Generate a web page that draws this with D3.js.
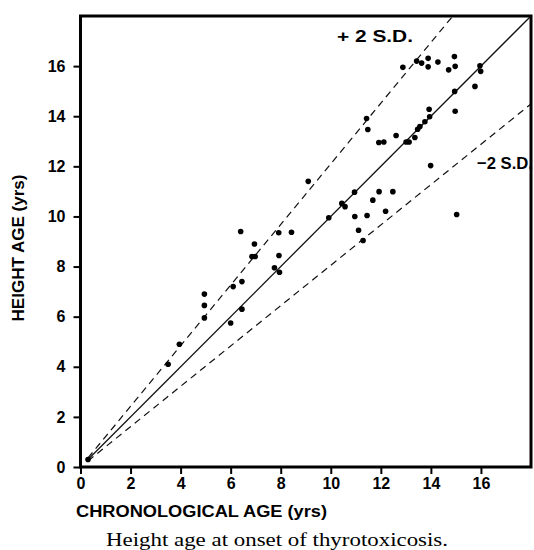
<!DOCTYPE html>
<html><head><meta charset="utf-8">
<script src="https://cdn.jsdelivr.net/npm/d3@7"></script>
<style>
body{margin:0;background:#fff;}
svg{display:block;}
</style></head>
<body>
<svg id="chart" width="534" height="550"></svg>
<script>
// Chronological age (x) and height age (y), years
const chronAge = [0.3,3.5,3.95,4.95,4.95,4.95,6.0,6.45,6.1,6.45,6.85,6.98,6.95,6.4,7.75,7.95,7.93,7.92,8.43,9.1,9.92,10.44,10.57,10.95,10.96,11.11,11.29,11.45,11.68,11.93,12.19,12.48,11.43,11.48,11.92,12.12,12.61,13.01,13.13,13.36,13.47,13.56,13.76,13.95,13.93,13.99,14.97,14.95,15.03,15.76,15.96,15.99,12.88,13.43,13.63,13.89,13.89,14.28,14.71,14.94,14.97];
const heightAge = [0.3,4.1,4.9,6.9,6.45,5.95,5.75,6.3,7.2,7.4,8.4,8.4,8.9,9.4,7.95,7.77,8.44,9.35,9.37,11.4,9.95,10.52,10.39,10.97,10.0,9.45,9.04,10.04,10.65,10.99,10.21,10.99,13.91,13.47,12.95,12.97,13.23,12.97,12.97,13.15,13.48,13.59,13.78,13.98,14.28,12.03,14.2,14.99,10.08,15.19,16.01,15.79,15.95,16.2,16.12,16.31,15.97,16.16,15.85,16.38,15.99];
// Reference lines: slope of height age vs chronological age
const lineNames  = ["mean","+2SD","-2SD"];
const lineSlopes = [1.0, 1.21, 0.805];
const lineDash   = [null, "7,5", "7,5"];
const tickValues = [0,2,4,6,8,10,12,14,16];
const xTitle = "CHRONOLOGICAL AGE (yrs)";
const yTitle = "HEIGHT AGE (yrs)";
const caption = "Height age at onset of thyrotoxicosis.";
const sdLabels = ["+ 2 S.D.", "\u22122 S.D."];

const svg = d3.select("#chart");
const L = 80.5, R = 531, T = 16, B = 467;
const x = d3.scaleLinear().domain([0,18]).range([L,R]);
const y = d3.scaleLinear().domain([0,18]).range([B,T]);
const font = "'Liberation Sans', Arial, sans-serif";

// reference lines
const x0 = 0.3;
lineSlopes.forEach((s,i)=>{
  const xe = Math.min(18, 18/s);
  svg.append("line")
    .attr("x1", x(x0)).attr("y1", y(x0*s))
    .attr("x2", x(xe)).attr("y2", y(xe*s))
    .attr("stroke","#111").attr("stroke-width", i===0?1.3:1.2)
    .attr("stroke-dasharray", lineDash[i]);
});

// points
svg.append("g").selectAll("circle").data(chronAge).join("circle")
  .attr("cx",(d)=>x(d)).attr("cy",(d,i)=>y(heightAge[i]))
  .attr("r",2.8).attr("fill","#000");

// axes
const ax = svg.append("g").attr("transform",`translate(0,${B})`)
  .call(d3.axisBottom(x).tickValues(tickValues).tickSize(7).tickPadding(4).tickFormat(d3.format("d")));
const ay = svg.append("g").attr("transform",`translate(${L},0)`)
  .call(d3.axisLeft(y).tickValues(tickValues).tickSize(7).tickPadding(8).tickFormat(d3.format("d")));
[ax,ay].forEach(g=>{
  g.select(".domain").remove();
  g.selectAll(".tick line").attr("stroke","#000").attr("stroke-width",2);
  g.selectAll(".tick text").attr("fill","#000").style("font-family",font).style("font-weight","bold").style("font-size","16px");
});

// frame
svg.append("rect").attr("x",L).attr("y",T).attr("width",R-L).attr("height",B-T)
  .attr("fill","none").attr("stroke","#000").attr("stroke-width",3);

// SD labels
svg.append("text").attr("x",337).attr("y",42).text(sdLabels[0])
  .attr("textLength",76).attr("lengthAdjust","spacingAndGlyphs")
  .style("font-family",font).style("font-weight","bold").style("font-size","17px");
svg.append("text").attr("x",477).attr("y",169).text(sdLabels[1])
  .attr("textLength",56).attr("lengthAdjust","spacingAndGlyphs")
  .style("font-family",font).style("font-weight","bold").style("font-size","17px");

// axis titles
svg.append("text").attr("x",76).attr("y",517).text(xTitle)
  .attr("textLength",251).attr("lengthAdjust","spacingAndGlyphs")
  .style("font-family",font).style("font-weight","bold").style("font-size","16px");
svg.append("text").attr("transform","translate(24,248) rotate(-90)")
  .attr("text-anchor","middle").text(yTitle)
  .attr("textLength",147).attr("lengthAdjust","spacingAndGlyphs")
  .style("font-family",font).style("font-weight","bold").style("font-size","16px");

// caption
svg.append("text").attr("x",106).attr("y",546).text(caption)
  .attr("textLength",342).attr("lengthAdjust","spacingAndGlyphs")
  .style("font-family","'Liberation Serif', 'Times New Roman', serif").style("font-size","18px");
</script>
</body></html>
